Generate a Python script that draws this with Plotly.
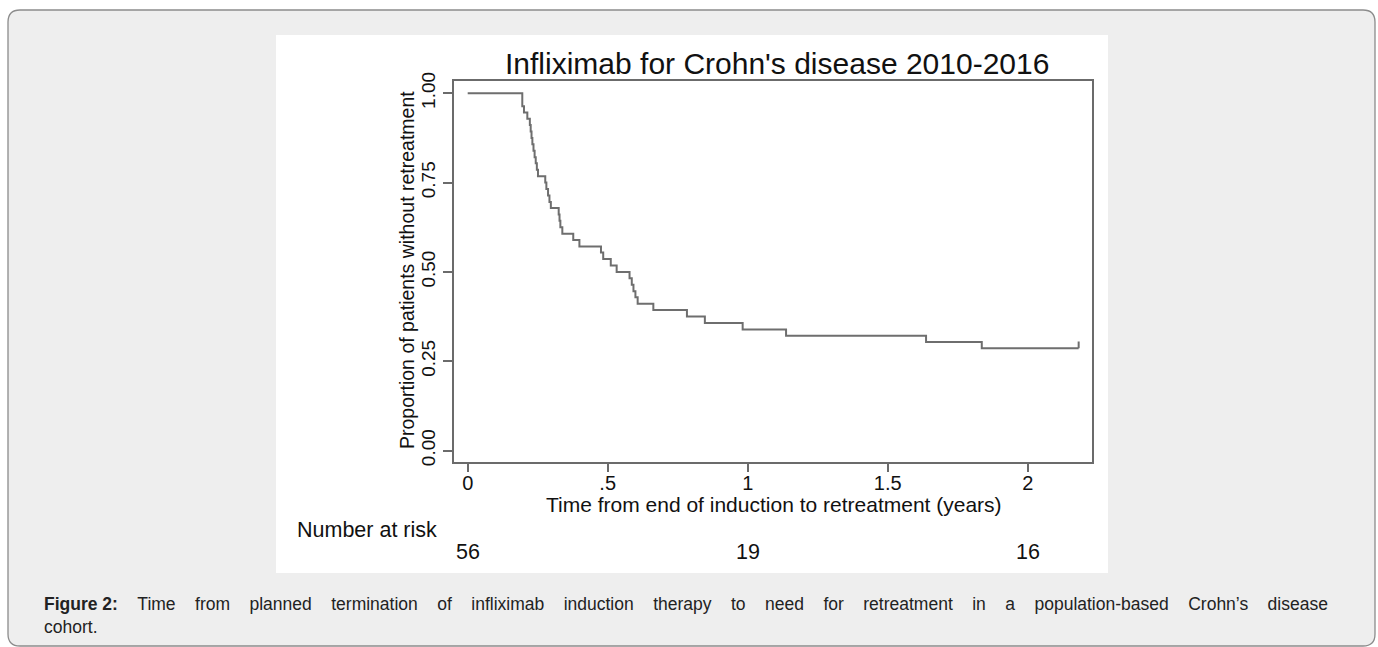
import plotly.graph_objects as go

# ---------------- data ----------------
times = [0, 0.195, 0.201, 0.213, 0.222, 0.225, 0.228, 0.231, 0.235, 0.239, 0.243,
         0.247, 0.251, 0.277, 0.281, 0.287, 0.292, 0.297, 0.325, 0.328, 0.331,
         0.338, 0.377, 0.399, 0.476, 0.484, 0.511, 0.532, 0.578, 0.586, 0.592,
         0.599, 0.607, 0.663, 0.783, 0.847, 0.982, 1.137, 1.637, 1.836, 2.182]
survival = [1.000, 0.964, 0.946, 0.929, 0.911, 0.893, 0.875, 0.857, 0.839, 0.821,
            0.804, 0.786, 0.768, 0.750, 0.732, 0.714, 0.696, 0.679, 0.661, 0.643,
            0.625, 0.607, 0.589, 0.571, 0.554, 0.536, 0.518, 0.500, 0.482, 0.464,
            0.446, 0.429, 0.411, 0.393, 0.375, 0.357, 0.339, 0.321, 0.304, 0.286,
            0.286]
x_tickvals = [0, 0.5, 1, 1.5, 2]
x_ticktext = ["0", ".5", "1", "1.5", "2"]
y_tickvals = [0, 0.25, 0.5, 0.75, 1.0]
y_ticktext = ["0.00", "0.25", "0.50", "0.75", "1.00"]
risk_times = [0, 1, 2]
risk_counts = [56, 19, 16]

title_text = "Infliximab for Crohn's disease 2010-2016"
x_title = "Time from end of induction to retreatment (years)"
y_title = "Proportion of patients without retreatment"
risk_label = "Number at risk"
caption_words_1 = ["<b>Figure 2:</b>", "Time", "from", "planned", "termination", "of",
                   "infliximab", "induction", "therapy", "to", "need", "for",
                   "retreatment", "in", "a", "population-based", "Crohn\u2019s", "disease"]
caption_2 = "cohort."

# ---------------- geometry helpers ----------------
W, H = 1378, 647
def px(x):
    return x / W
def py(y):
    return 1 - y / H

FONT = "Liberation Sans, Arial, sans-serif"
LINE_C = "#6b6b6b"
CURVE_C = "#6e6e6e"

# justified first caption line (wider word gaps, as in the reference)
GAP = "\u00a0" * 4
caption_1 = GAP.join(caption_words_1)

fig = go.Figure()
fig.add_trace(go.Scatter(x=times, y=survival, mode="lines", line_shape="hv",
                         line=dict(color=CURVE_C, width=2), hoverinfo="skip",
                         showlegend=False))
# end-of-follow-up tick
fig.add_trace(go.Scatter(x=[times[-1], times[-1]],
                         y=[survival[-1], survival[-1] + 0.019],
                         mode="lines", line=dict(color=CURVE_C, width=2),
                         hoverinfo="skip", showlegend=False))

r = 12
L, T, R, B = 8, 10, 1375, 646
rounded = (f"M {L+r},{-T} L {R-r},{-T} Q {R},{-T} {R},{-(T+r)} "
           f"L {R},{-(B-r)} Q {R},{-B} {R-r},{-B} L {L+r},{-B} "
           f"Q {L},{-B} {L},{-(B-r)} L {L},{-(T+r)} Q {L},{-T} {L+r},{-T} Z")

shapes = [
    dict(type="path", xref="paper", yref="paper", xsizemode="pixel",
         ysizemode="pixel", xanchor=0, yanchor=1, path=rounded,
         fillcolor="#eeeeee", line=dict(color="#8c8c8c", width=1.3),
         layer="below"),
    dict(type="rect", xref="paper", yref="paper", x0=px(276), x1=px(1108),
         y0=py(573), y1=py(35), fillcolor="white", line=dict(width=0),
         layer="below"),
]

annotations = [
    dict(text=title_text, xref="paper", yref="paper", x=px(777), y=py(63),
         xanchor="center", yanchor="middle", showarrow=False,
         font=dict(family=FONT, size=30, color="#111")),
    dict(text=y_title, xref="paper", yref="paper", x=px(407), y=py(270),
         xanchor="center", yanchor="middle", textangle=-90, showarrow=False,
         font=dict(family=FONT, size=19.5, color="#111")),
    dict(text=x_title, xref="paper", yref="paper", x=px(774), y=py(504),
         xanchor="center", yanchor="middle", showarrow=False,
         font=dict(family=FONT, size=21, color="#111")),
    dict(text=risk_label, xref="paper", yref="paper", x=px(295), y=py(530),
         xanchor="left", yanchor="middle", showarrow=False,
         font=dict(family=FONT, size=21.5, color="#111")),
    dict(text=caption_1, xref="paper", yref="paper", x=px(42), y=py(604),
         xanchor="left", yanchor="middle", showarrow=False,
         font=dict(family=FONT, size=17.5, color="#222")),
    dict(text=caption_2, xref="paper", yref="paper", x=px(42), y=py(627),
         xanchor="left", yanchor="middle", showarrow=False,
         font=dict(family=FONT, size=17.5, color="#222")),
]
for t, n in zip(risk_times, risk_counts):
    annotations.append(dict(text=str(n), xref="x", yref="paper", x=t, y=py(552),
                            xanchor="center", yanchor="middle", showarrow=False,
                            font=dict(family=FONT, size=21.5, color="#111")))

fig.update_layout(
    template="none",
    width=W, height=H,
    margin=dict(l=0, r=0, t=0, b=0, autoexpand=False),
    paper_bgcolor="white",
    plot_bgcolor="white",
    showlegend=False,
    shapes=shapes,
    annotations=annotations,
    xaxis=dict(domain=[px(454), px(1092.3)], range=[-0.0489, 2.2307],
               tickvals=x_tickvals, ticktext=x_ticktext, ticks="outside",
               ticklen=8, tickwidth=1.5, tickcolor=LINE_C, showgrid=False,
               zeroline=False, showline=True, mirror=True, linecolor=LINE_C,
               linewidth=1.5, automargin=False, ticklabelstandoff=-6,
               tickfont=dict(family=FONT, size=20, color="#111")),
    yaxis=dict(domain=[py(462.3), py(81)], range=[-0.033, 1.0344],
               tickvals=y_tickvals, ticktext=y_ticktext, ticks="outside",
               ticklen=9, tickwidth=1.5, tickcolor=LINE_C, showgrid=False,
               zeroline=False, showline=True, mirror=True, linecolor=LINE_C,
               linewidth=1.5, automargin=False, tickangle=-90,
               ticklabelstandoff=1,
               tickfont=dict(family=FONT, size=19, color="#111")),
)

fig.write_html("out.html", config={"displayModeBar": False},
               post_script="document.body.style.margin='0';document.body.style.overflow='hidden';")
